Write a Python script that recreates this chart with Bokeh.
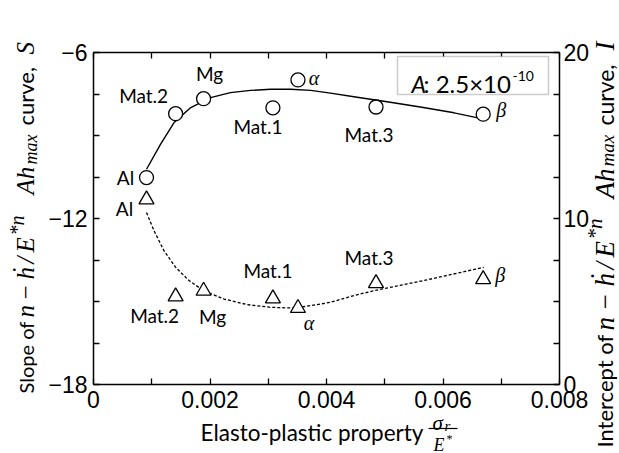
import numpy as np
from bokeh.plotting import figure
from bokeh.models import (Range1d, LinearAxis, FixedTicker, Label, BoxAnnotation,
                          CustomJSTickFormatter, Arrow)
from bokeh.embed import file_html
from bokeh.resources import INLINE

# ---------------- data ----------------
materials = ["Al", "Mat.2", "Mg", "Mat.1", "α", "Mat.3", "β"]
sigma_over_E = [0.00091, 0.00141, 0.00189, 0.00308, 0.00351, 0.00485, 0.00669]
slope_S = [-10.52, -8.21, -7.67, -8.00, -6.99, -7.97, -8.23]
intercept_I = [11.14, 5.30, 5.64, 5.18, 4.60, 6.10, 6.34]

# fitted trend curves
fit_x_S = [0.00091, 0.00115, 0.00138, 0.00167, 0.00201, 0.00235, 0.00270, 0.00304,
           0.00338, 0.00373, 0.00407, 0.00447, 0.00504, 0.00561, 0.00619, 0.00664]
fit_S = [-10.22, -9.32, -8.54, -7.99, -7.63, -7.45, -7.37, -7.33,
         -7.33, -7.37, -7.47, -7.60, -7.78, -7.97, -8.18, -8.38]
fit_x_I = [0.00091, 0.00104, 0.00121, 0.00141, 0.00164, 0.00189, 0.00224, 0.00264,
           0.00304, 0.00338, 0.00364, 0.00407, 0.00441, 0.00481, 0.00567, 0.00670]
fit_I = [10.36, 9.26, 8.06, 7.06, 6.26, 5.65, 5.15, 4.81,
         4.65, 4.61, 4.70, 4.95, 5.30, 5.65, 6.26, 7.06]

x_ticks = [0, 0.002, 0.004, 0.006, 0.008]
x_minor = [0.001, 0.003, 0.005, 0.007]
x_tick_labels = ["0", "0.002", "0.004", "0.006", "0.008"]
s_ticks = [-18, -12, -6]
s_minor = [-16.5, -15, -13.5, -10.5, -9, -7.5]
s_tick_labels = ["−18", "−12", "−6"]
i_ticks = [0, 10, 20]
i_minor = [2.5, 5, 7.5, 12.5, 15, 17.5]
i_tick_labels = ["0", "10", "20"]

X0, X1 = 0.0, 0.008      # x axis extent
S0, S1 = -18.0, -6.0     # left axis extent
I0, I1 = 0.0, 20.0       # right axis extent

# ---------------- geometry (canvas px of the plot box) ----------------
W, H = 619, 453
FL, FR, FT, FB = 93, 559, 52, 384


def dx(cx):
    return X0 + (cx - FL) / (FR - FL) * (X1 - X0)


def dy(cy):
    return S1 - (cy - FT) / (FB - FT) * (S1 - S0)


def di(cy):
    return I1 - (cy - FT) / (FB - FT) * (I1 - I0)


p = figure(width=W, height=H, x_range=Range1d(dx(0), dx(W)), y_range=Range1d(dy(H), dy(0)),
           output_backend="svg", toolbar_location=None, title=None,
           min_border=0, min_border_left=0, min_border_right=0,
           min_border_top=0, min_border_bottom=0)
p.extra_y_ranges = {"I": Range1d(di(H), di(0))}
p.xgrid.visible = False
p.ygrid.visible = False
p.outline_line_color = None
p.background_fill_color = "white"
p.border_fill_color = "white"

TICK_FONT = "Liberation Sans"
TICK_SIZE = "23px"


def style_axis(ax, standoff):
    ax.axis_line_color = "black"
    ax.axis_line_width = 1.5
    ax.major_tick_in = 6
    ax.major_tick_out = 0
    ax.minor_tick_in = 6
    ax.minor_tick_out = 0
    ax.major_tick_line_color = "black"
    ax.minor_tick_line_color = "black"
    ax.major_tick_line_width = 1.3
    ax.minor_tick_line_width = 1.3
    ax.major_label_text_font = TICK_FONT
    ax.major_label_text_font_size = TICK_SIZE
    ax.major_label_text_color = "black"
    ax.major_label_standoff = standoff


bx = p.xaxis[0]
bx.ticker = FixedTicker(ticks=x_ticks, minor_ticks=x_minor)
bx.major_label_overrides = dict(zip(x_ticks, x_tick_labels))
bx.fixed_location = S0
bx.bounds = (X0, X1)
style_axis(bx, 6)

ly = p.yaxis[0]
ly.ticker = FixedTicker(ticks=s_ticks, minor_ticks=s_minor)
ly.major_label_overrides = dict(zip(s_ticks, s_tick_labels))
ly.fixed_location = X0
ly.bounds = (S0, S1)
style_axis(ly, 6)

top_ax = LinearAxis(ticker=FixedTicker(ticks=x_ticks, minor_ticks=x_minor),
                    formatter=CustomJSTickFormatter(code="return ''"),
                    fixed_location=S1, bounds=(X0, X1))
style_axis(top_ax, 0)
p.add_layout(top_ax, "above")

right_ax = LinearAxis(y_range_name="I",
                      ticker=FixedTicker(ticks=i_ticks, minor_ticks=i_minor),
                      fixed_location=X1, bounds=(I0, I1))
right_ax.major_label_overrides = dict(zip(i_ticks, i_tick_labels))
style_axis(right_ax, 4)
p.add_layout(right_ax, "right")

# ---------------- curves ----------------
p.line(fit_x_S, fit_S, line_color="black", line_width=1.4)
p.line(fit_x_I, fit_I, line_color="black", line_width=1.3, line_dash="3 2", y_range_name="I")

# ---------------- markers ----------------
p.scatter(sigma_over_E, slope_S, marker="circle", size=14, fill_color="white",
          line_color="black", line_width=1.3)
p.scatter(sigma_over_E, intercept_I, marker="triangle", size=15, fill_color="white",
          line_color="black", line_width=1.3, y_range_name="I")

# ---------------- point labels ----------------
LBL_FONT = "Lato"
circ_off = {"Al": (-21, 0), "Mat.2": (-32, -18), "Mg": (6, -25), "Mat.1": (-15, 19),
            "α": (16, -2), "Mat.3": (-7, 27), "β": (18, -4)}
tri_off = {"Al": (-22, 9), "Mat.2": (-21, 19), "Mg": (9, 26), "Mat.1": (-5, -28),
           "α": (11, 15), "Mat.3": (-7, -26), "β": (17, -4)}

for name, xv, sv, iv in zip(materials, sigma_over_E, slope_S, intercept_I):
    greek = name in ("α", "β")
    font = "Liberation Serif" if greek else LBL_FONT
    style = "italic" if greek else "normal"
    size = "20px" if greek else "19px"
    ox, oy = circ_off[name]
    p.add_layout(Label(x=xv, y=sv, text=name, x_offset=ox, y_offset=-oy,
                       text_align="center", text_baseline="middle",
                       text_font=font, text_font_style=style, text_font_size=size,
                       text_color="black"))
    ox, oy = tri_off[name]
    p.add_layout(Label(x=xv, y=iv, y_range_name="I", text=name, x_offset=ox, y_offset=-oy,
                       text_align="center", text_baseline="middle",
                       text_font=font, text_font_style=style, text_font_size=size,
                       text_color="black"))

# ---------------- parameter box ----------------
p.add_layout(BoxAnnotation(left=dx(397), right=dx(548), top=dy(56), bottom=dy(94),
                           fill_color="white", fill_alpha=1.0, line_color="#555555",
                           line_width=1.5))


def put(text, cx, cy, font="Lato", size=22, style="normal", align="left",
        baseline="alphabetic", angle=0.0):
    p.add_layout(Label(x=dx(cx), y=dy(cy), text=text, text_font=font,
                       text_font_size=f"{size}px", text_font_style=style,
                       text_align=align, text_baseline=baseline, angle=angle,
                       text_color="black"))


put("A", 411, 83, style="italic", size=23)
put(": 2.5×10", 423, 83, size=24)
put("-10", 512, 75, size=14)

# ---------------- x-axis title ----------------
put("Elasto-plastic property", 200, 432, size=22.5)
put("σ", 432, 422, font="Liberation Serif", size=21, style="italic")
put("r", 444, 425, font="Liberation Serif", size=15, style="italic")
p.add_layout(Arrow(x_start=dx(428), y_start=dy(428), x_end=dx(457), y_end=dy(428),
                   start=None, end=None, line_color="black", line_width=1.2))
put("E", 433, 444, font="Liberation Serif", size=18, style="italic")
put("*", 446, 438, font="Liberation Serif", size=12)

# ---------------- y-axis titles (rotated) ----------------
R = np.pi / 2
MATH = "Liberation Serif"


def ylabel(base_x, parts):
    for text, start, font, size, style, off in parts:
        put(text, base_x + off, start, font=font, size=size, style=style, angle=R)


ylabel(25, [
    ("Slope of", 393, "Lato", 20, "normal", 0),
    ("n", 317, MATH, 25, "italic", 0),
    ("−", 299, MATH, 25, "normal", 0),
    ("ḣ", 279, MATH, 25, "italic", 0),
    ("/", 263, MATH, 25, "italic", 0),
    ("E", 252, MATH, 25, "italic", 0),
    ("*n", 235, MATH, 20, "italic", -9),
    ("Ah", 194, MATH, 25, "italic", 0),
    ("max", 164, MATH, 18, "italic", 5),
    ("curve,", 125, "Lato", 22, "normal", 0),
    ("S", 54, MATH, 25, "italic", 0),
])
ylabel(604, [
    ("Intercept of", 447, "Lato", 22, "normal", 0),
    ("n", 330, MATH, 27, "italic", 0),
    ("−", 309, MATH, 27, "normal", 0),
    ("ḣ", 286, MATH, 27, "italic", 0),
    ("/", 269, MATH, 27, "italic", 0),
    ("E", 257, MATH, 27, "italic", 0),
    ("*n", 239, MATH, 21, "italic", -10),
    ("Ah", 198, MATH, 27, "italic", 0),
    ("max", 166, MATH, 19, "italic", 3),
    ("curve,", 125, "Lato", 23, "normal", 0),
    ("I", 50, MATH, 27, "italic", 0),
])

open("out.html", "w").write(file_html(p, INLINE))
